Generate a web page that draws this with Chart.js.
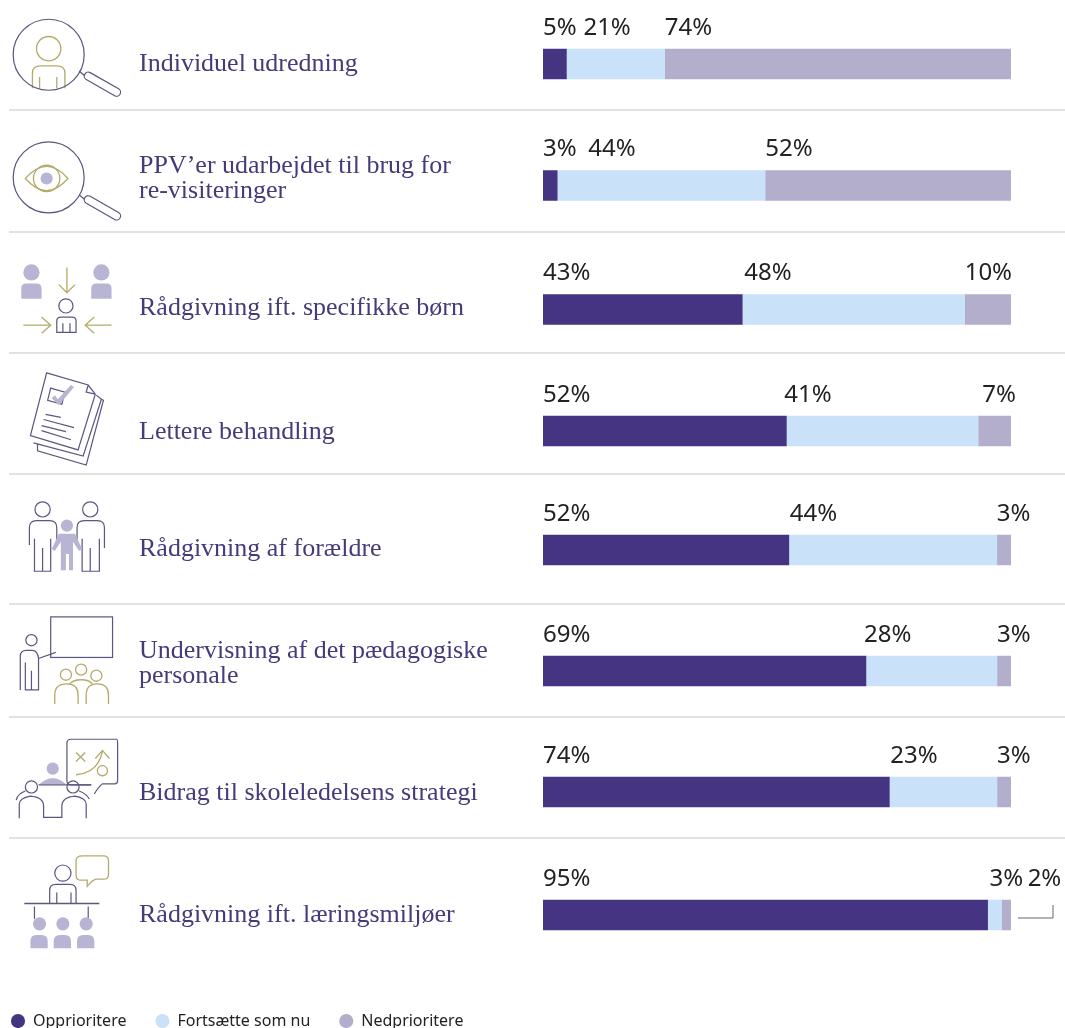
<!DOCTYPE html>
<html lang="da">
<head>
<meta charset="utf-8">
<title>Prioritering af PPR-opgaver</title>
<script src="https://cdn.jsdelivr.net/npm/chart.js@4/dist/chart.umd.js"></script>
<style>
    html, body { margin: 0; background: #fff; overflow: hidden; }
    #wrap { position: relative; width: 1065px; height: 1028px; }
    #wrap canvas { position: absolute; left: 0; top: 0; }
    #icons { position: absolute; left: 0; top: 0; pointer-events: none; }
    #icons .l { fill: none; stroke: #5b5780; stroke-width: 1.2; }
    #icons .o { fill: none; stroke: #b3ac6c; stroke-width: 1.3; }
    #icons .f { fill: #b8b4d3; stroke: none; }
</style>
</head>
<body>
<div id="wrap">
<canvas id="chart" width="1065" height="1028"></canvas>
<svg id="icons" width="1065" height="1028" viewBox="0 0 1065 1028">
  <g transform="scale(1.014)">
    <!-- Individuel udredning -->
    <path class="o" d="M32 87V72q0-7 8-7h16q8 0 8 7v15M39 76v11M56 76v11"/>
    <circle class="o" cx="48" cy="48" r="12"/>
    <circle class="l" cx="48" cy="54" r="35"/>
    <path class="l" d="M78 70l7 6"/>
    <path d="M87 75l28 16" stroke="#5b5780" stroke-width="9" stroke-linecap="round"/>
    <path d="M87 75l28 16" stroke="#fff" stroke-width="6.6" stroke-linecap="round"/>

    <!-- PPV'er -->
    <circle class="l" cx="48" cy="175" r="35"/>
    <path class="o" d="M25 176q21-24 42 0q-21 24-42 0z"/>
    <circle class="o" cx="46" cy="176" r="13"/>
    <circle class="f" cx="46" cy="176" r="6"/>
    <path class="l" d="M78 192l7 6"/>
    <path d="M87 197l28 16" stroke="#5b5780" stroke-width="9" stroke-linecap="round"/>
    <path d="M87 197l28 16" stroke="#fff" stroke-width="6.6" stroke-linecap="round"/>
  </g>

  <g transform="translate(0 240) scale(1.014) translate(0 -240)">
    <!-- Rådgivning ift. specifikke børn -->
    <circle class="f" cx="31" cy="272" r="8"/>
    <path class="f" d="M21 298v-10q0-5 5-5h10q5 0 5 5v10z"/>
    <circle class="f" cx="100" cy="272" r="8"/>
    <path class="f" d="M90 298v-10q0-5 5-5h10q5 0 5 5v10z"/>
    <path class="o" d="M66 267v25M58 284l8 8 8-8M23 324h27M41 316l9 8-9 8M110 324H84M93 316l-9 8 9 8"/>
    <circle class="l" cx="65" cy="305" r="7"/>
    <path class="l" d="M56 331v-11q0-4 4-4h11q4 0 4 4v11zM62 322v9M69 322v9"/>

    <!-- Lettere behandling -->
    <path class="l" d="M46 371l41 12 7 9-17 55-47-14zM87 383l-2 7 9 2"/>
    <path class="l" d="M95 393l5 4-18 56-49-13M100 397l2 1-17 64-48-14v-7"/>
    <path class="l" d="M50 386l14 4-3 12-14-4z"/>
    <path class="f" d="M54 393l3 4 13-14 3 2-15 18-7-7z"/>
    <path class="l" d="M45 412l15 3M43 417l30 8M41 423l24 6M41 428l29 9"/>
  </g>

  <g transform="translate(0 480) scale(1.014) translate(0 -480)">
    <!-- Rådgivning af forældre -->
    <circle class="l" cx="42" cy="509" r="7.5"/>
    <circle class="l" cx="89" cy="509" r="7.5"/>
    <path class="l" d="M29 544v-17q0-7 7-7h13q7 0 7 7v17M34 538v32h16v-32M42 547v23M76 544v-17q0-7 7-7h13q7 0 7 7v20M81 538v32h17v-32M89 547v23"/>
    <circle class="f" cx="66" cy="525" r="6"/>
    <path class="f" d="M58 533h16l7 15-3 2-6-9v28h-4v-16h-3v16h-5v-28l-6 9-3-2z"/>

    <!-- Undervisning af det paedagogiske personale -->
    <rect class="l" x="50" y="615" width="61" height="40"/>
    <circle class="l" cx="31" cy="638" r="5.5"/>
    <path class="l" d="M20 687v-33q0-6 6-6h6q5 0 6 8l17-6M25 660v27h13v-31M31 668v19"/>
    <circle class="o" cx="65" cy="672" r="5.5"/>
    <circle class="o" cx="80" cy="667" r="5.5"/>
    <circle class="o" cx="95" cy="673" r="5.5"/>
    <path class="o" d="M54 701v-9q0-11 12-11q11 0 11 11v9M85 701v-9q0-11 11-11q11 0 11 11v9M69 681q3-4 11-4q8 0 11 4"/>
  </g>

  <g transform="translate(0 720) scale(1.014) translate(0 -720)">
    <!-- Bidrag til skoleledelsens strategi -->
    <path class="l" d="M90 784H70q-4 0-4-4V743q0-4 4-4h45q1 0 1 4v37q0 3-3 3h-12q-4 3-8 10"/>
    <path class="o" d="M75 752l9 9M84 752l-9 9M75 774q22-2 26-23M94 758l7-8 7 8"/>
    <circle class="o" cx="101" cy="770" r="5"/>
    <circle class="f" cx="52" cy="768" r="6"/>
    <path class="f" d="M39 783q13-11 26 0z"/>
    <circle class="l" cx="31" cy="786" r="6"/>
    <circle class="l" cx="72" cy="786" r="6"/>
    <path class="l" d="M38 784h52M19 817v-14q0-6 11-8q13 1 13 10v11h18v-11q0-9 13-10q11 2 11 8v14M25 790q-8 3-9 9M78 790q8 3 10 8"/>

    <!-- Raadgivning ift. laeringsmiljoeer -->
    <path class="o" d="M81 854h21q5 0 5 5v13q0 5-5 5h-7q-4 1-9 7v-6h-6q-5 0-5-5v-14q0-5 6-5z"/>
    <circle class="l" cx="62" cy="871" r="8"/>
    <path class="l" d="M49 901v-13q0-6 6-6h14q6 0 6 6v13M56 890v11M70 890v11"/>
    <path d="M24 901h74" stroke="#5b5780" stroke-width="1.4"/>
    <path class="l" d="M34 904v12M87 904v12"/>
    <circle class="f" cx="39" cy="921" r="6.5"/>
    <circle class="f" cx="62" cy="921" r="6.5"/>
    <circle class="f" cx="85" cy="921" r="6.5"/>
    <path class="f" d="M30 945v-7q0-6 6-6h5q6 0 6 6v7zM53 945v-7q0-6 6-6h5q6 0 6 6v7zM76 945v-7q0-6 6-6h5q6 0 6 6v7z"/>
  </g>

    <!-- leader for the 2% label -->
    <path d="M1018 918h35v-13" fill="none" stroke="#666" stroke-width="1"/>
</svg>
</div>

<script>
const categories = [
    'Individuel udredning',
    ['PPV’er udarbejdet til brug for', 're-visiteringer'],
    'Rådgivning ift. specifikke børn',
    'Lettere behandling',
    'Rådgivning af forældre',
    ['Undervisning af det pædagogiske', 'personale'],
    'Bidrag til skoleledelsens strategi',
    'Rådgivning ift. læringsmiljøer'
];
const seriesNames = ['Opprioritere', 'Fortsætte som nu', 'Nedprioritere'];
const opprioritere = [5, 3, 43, 52, 52, 69, 74, 95];
const fortsaette = [21, 44, 48, 41, 44, 28, 23, 3];
const nedprioritere = [74, 52, 10, 7, 3, 3, 3, 2];

const colors = ['#443481', '#cae2f9', '#b2aecc'];

// rows are not evenly spaced in the original
const barRows = [64, 185.5, 309.5, 431, 550, 671, 792, 915];
const textRows = [64, 179, 308, 432, 549, 664, 793, 915];
const dividers = [110, 232, 353, 474, 604, 717, 838];
// sideways shift of labels that would collide, by [row][series]
const labelShift = [[0, 17, 0], [0, 31, 0], [0, 2, 0], [0, -2, 4], [0, 1, 0], [0, -2, 0], [0, 1, 0], [0, 2, 26]];

const seriesValues = [opprioritere, fortsaette, nedprioritere];
// bars fill the full width even when the rounded shares add up to 99 or 101
const rowTotals = categories.map((c, i) => seriesValues.reduce((sum, s) => sum + s[i], 0));

class RowScale extends Chart.CategoryScale {
    static id = 'rowScale';
    static defaults = Chart.CategoryScale.defaults;
    getPixelForValue(value) {
        return barRows[typeof value === 'number' ? value : this.parse(value)];
    }
    getPixelForTick(index) {
        return textRows[index];
    }
}
Chart.register(RowScale);

const rowDecor = {
    id: 'rowDecor',
    afterLayout(chart) {
        // legend sits flush left under the last row
        chart.legend.left = -18;
        chart.legend.top = 984;
    },
    beforeDatasetsDraw(chart) {
        const ctx = chart.ctx;
        ctx.save();
        ctx.strokeStyle = '#c6c6c6';
        ctx.lineWidth = 1.2;
        dividers.forEach(y => {
            ctx.beginPath();
            ctx.moveTo(9, y);
            ctx.lineTo(1065, y);
            ctx.stroke();
        });
        ctx.restore();
    },
    afterDatasetsDraw(chart) {
        const ctx = chart.ctx;
        ctx.save();
        ctx.font = '24px "Noto Sans"';
        ctx.fillStyle = '#222';
        ctx.textAlign = 'left';
        ctx.textBaseline = 'middle';
        seriesValues.forEach((values, d) => {
            chart.getDatasetMeta(d).data.forEach((bar, i) => {
                ctx.fillText(values[i] + '%', bar.base + labelShift[i][d], bar.y - 36);
            });
        });
        ctx.restore();
    }
};

new Chart(document.getElementById('chart').getContext('2d'), {
    type: 'bar',
    data: {
        labels: categories,
        datasets: seriesValues.map((values, d) => ({
            label: seriesNames[d],
            data: values.map((v, i) => v / rowTotals[i] * 100),
            backgroundColor: colors[d],
            borderWidth: 0,
            barThickness: 30
        }))
    },
    options: {
        indexAxis: 'y',
        responsive: false,
        animation: false,
        layout: { padding: { left: 139, right: 54, top: 0, bottom: 0 } },
        scales: {
            x: { stacked: true, min: 0, max: 100, display: false },
            y: {
                type: 'rowScale',
                stacked: true,
                grid: { display: false, drawTicks: false },
                border: { display: false },
                afterFit(scale) { scale.width = 404; },
                ticks: {
                    autoSkip: false,
                    crossAlign: 'far',
                    padding: 0,
                    color: '#453a7a',
                    font: { family: '"Liberation Serif"', size: 26, lineHeight: '25px' }
                }
            }
        },
        plugins: {
            tooltip: { enabled: false },
            legend: {
                position: 'bottom',
                align: 'start',
                labels: {
                    usePointStyle: true,
                    pointStyle: 'circle',
                    boxWidth: 14,
                    boxHeight: 10,
                    padding: 29,
                    color: '#222',
                    font: { family: '"Noto Sans"', size: 16 }
                }
            }
        }
    },
    plugins: [rowDecor]
});
</script>
</body>
</html>
